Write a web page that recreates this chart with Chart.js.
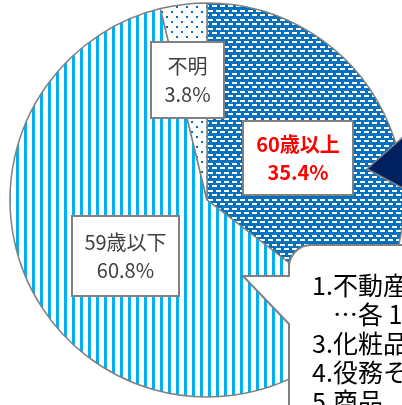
<!DOCTYPE html>
<html>
<head>
<meta charset="utf-8">
<script src="https://cdn.jsdelivr.net/npm/chart.js@4/dist/chart.umd.min.js"></script>
<style>
html,body{margin:0;padding:0;background:#fff;overflow:hidden}
#wrap{position:relative;width:430px;height:405px}
</style>
</head>
<body>
<div id="wrap"><canvas id="pie"></canvas></div>
<script>
'use strict'

// data
const age_labels = ['60歳以上', '59歳以下', '不明']
const age_values = [35.4, 60.8, 3.8]
const callout_nums = ['1.', '', '3.', '4.', '5.']
const callout_texts = ['不動産', '…各 1', '化粧品', '役務そ', '商品']

// label boxes (layout only): x, y, w, h, text colour, bold
const label_boxes = [
    {x: 243, y: 121, w: 110, h: 74, color: '#ff0000', bold: true},
    {x: 72, y: 216, w: 107, h: 80, color: '#404040', bold: false},
    {x: 151, y: 42, w: 73, h: 76, color: '#404040', bold: false}
]

const FONT = '"Noto Sans CJK JP", "Noto Sans", sans-serif'
const canvas = document.getElementById('pie')
const ctx = canvas.getContext('2d')

function makePattern(w, h, draw){
    const c = document.createElement('canvas')
    c.width = w
    c.height = h
    draw(c.getContext('2d'))
    return ctx.createPattern(c, 'repeat')
}

// dark blue with white dashes
const pat_over60 = makePattern(8, 9, g => {
    g.fillStyle = '#0070c0'
    g.fillRect(0, 0, 8, 9)
    g.fillStyle = '#ffffff'
    g.fillRect(0, 1, 5, 2)
    g.fillRect(4, 5, 4, 2)
    g.fillRect(0, 5, 1, 2)
})
// cyan vertical lines
const pat_under59 = makePattern(8, 8, g => {
    g.fillStyle = '#ffffff'
    g.fillRect(0, 0, 8, 8)
    g.fillStyle = '#00b0f0'
    g.fillRect(0, 0, 3, 8)
})
// sparse blue dots
const pat_unknown = makePattern(10, 10, g => {
    g.fillStyle = '#ffffff'
    g.fillRect(0, 0, 10, 10)
    g.fillStyle = '#0070c0'
    g.fillRect(1, 1, 2, 2)
    g.fillRect(6, 6, 2, 2)
})

const annotations = {
    id: 'annotations',
    afterDraw(chart){
        const c = chart.ctx
        c.save()

        // pointer of a callout coming in from the right
        c.beginPath()
        c.moveTo(367, 169)
        c.lineTo(440, 104)
        c.lineTo(440, 208)
        c.closePath()
        c.fillStyle = '#002060'
        c.fill()
        c.strokeStyle = '#808080'
        c.lineWidth = 1.5
        c.stroke()

        // value labels
        c.textAlign = 'center'
        c.textBaseline = 'middle'
        label_boxes.forEach((b, i) => {
            c.fillStyle = '#ffffff'
            c.fillRect(b.x, b.y, b.w, b.h)
            c.strokeStyle = '#808080'
            c.lineWidth = 2
            c.strokeRect(b.x, b.y, b.w, b.h)
            c.fillStyle = b.color
            c.font = (b.bold ? 'bold ' : '') + '20px ' + FONT
            const cx = b.x + b.w / 2
            const cy = b.y + b.h / 2
            c.fillText(age_labels[i], cx, cy - 14)
            c.fillText(age_values[i].toFixed(1) + '%', cx, cy + 14)
        })

        // speech bubble bottom right
        c.beginPath()
        c.moveTo(440, 245)
        c.lineTo(311, 245)
        c.arcTo(289, 245, 289, 267, 22)
        c.lineTo(289, 276)
        c.lineTo(243, 276)
        c.lineTo(289, 324)
        c.lineTo(289, 420)
        c.lineTo(440, 420)
        c.closePath()
        c.fillStyle = '#ffffff'
        c.fill()
        c.strokeStyle = '#808080'
        c.lineWidth = 2
        c.stroke()

        c.fillStyle = '#000000'
        c.textAlign = 'left'
        c.font = '25px ' + FONT
        callout_texts.forEach((t, i) => {
            const y = 285 + i * 29
            c.fillText(callout_nums[i], 312, y)
            c.fillText(t, 333, y)
        })

        c.restore()
    }
}

new Chart(ctx, {
    type: 'pie',
    data: {
        labels: age_labels,
        datasets: [{
            data: age_values,
            backgroundColor: [pat_over60, pat_under59, pat_unknown],
            borderColor: '#808080',
            borderWidth: 1.5
        }]
    },
    options: {
        responsive: true,
        maintainAspectRatio: false,
        animation: false,
        radius: 197,
        layout: {padding: {left: 9, top: 2, right: 25, bottom: 7}},
        plugins: {
            legend: {display: false},
            tooltip: {enabled: false}
        }
    },
    plugins: [annotations]
})
</script>
</body>
</html>
